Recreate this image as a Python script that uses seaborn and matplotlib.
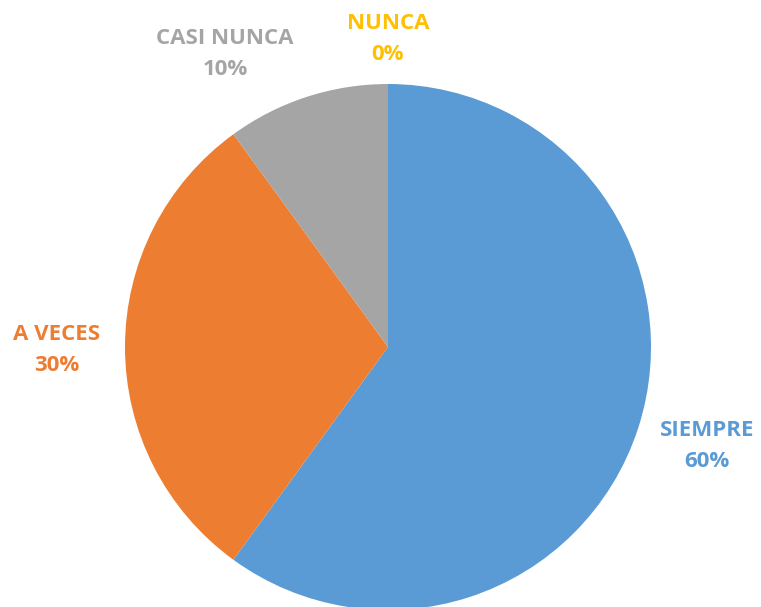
import seaborn as sns
import matplotlib.pyplot as plt

categorias = ['SIEMPRE', 'A VECES', 'CASI NUNCA', 'NUNCA']
porcentajes = [60, 30, 10, 0]
colores = ['#5B9BD5', '#ED7D31', '#A5A5A5', '#FFC000']
# label anchor positions (in units of pie radius)
pos_etiquetas = [(1.213, -0.376), (-1.259, -0.011), (-0.620, 1.114), (0.0, 1.171)]

sns.set_theme(style='white')
plt.rcParams['font.family'] = ['Open Sans', 'DejaVu Sans']

fig = plt.figure(figsize=(7.61, 6.07), dpi=100)
ax = fig.add_axes([0, 0, 1, 1])
ax.pie(porcentajes, colors=colores, startangle=90, counterclock=False,
       radius=1.0, wedgeprops=dict(linewidth=0))
ax.set_xlim(-388 / 263, (761 - 388) / 263)
ax.set_ylim(-260 / 263, 347 / 263)
ax.set_aspect('equal')
ax.axis('off')

for cat, pct, col, (x, y) in zip(categorias, porcentajes, colores, pos_etiquetas):
    ax.text(x, y, f'{cat}\n{pct}%', color=col, fontsize=16, fontweight='bold',
            ha='center', va='center', linespacing=1.6)

fig.savefig('out.png', dpi=100)
